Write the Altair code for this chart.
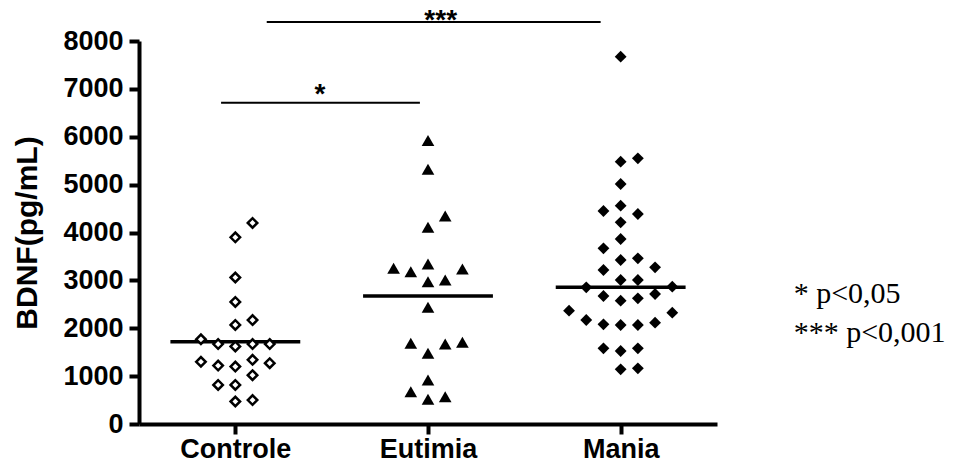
import altair as alt
import pandas as pd

# ---------------- data ----------------
categories = ["Controle", "Eutimia", "Mania"]

controle = [4200, 3900, 3060, 2550, 2170, 2070, 1770, 1670, 1620, 1670, 1670,
            1340, 1270, 1200, 1220, 1300, 1020, 815, 815, 470, 500]
eutimia = [5920, 5320, 4345, 4108, 3252, 3182, 2973, 3008, 3238, 3342,
           2437, 1686, 1477, 1671, 1706, 919, 675, 515, 571]
mania = [7673, 5550, 5480, 5013, 4449, 4386, 4560, 4212, 3864, 3670, 3461,
         3426, 3217, 3273, 3008, 3008, 2868, 2855, 2715, 2625, 2576, 2674,
         2367, 2172, 2082, 2068, 2068, 2117, 2325, 1581, 1525, 1581, 1142, 1163]
center_lines = [1720, 2672, 2858]

# significance bars (x in group units, y in pg/mL)
sig_x1 = [-0.074, 0.163]
sig_x2 = [0.958, 1.896]
sig_y = [6711, 8397]
sig_labels = ["*", "***"]
sig_label_x = [0.439, 1.066]
sig_label_y = [6700, 8260]

legend_lines = ["* p<0,05", "*** p<0,001"]
legend_x = [2.898, 2.898]
legend_y = [2521, 1719]

# ---------------- beeswarm layout computed from the values ----------------
SLOT = 0.0893      # horizontal step between neighbouring points (group units)
GAP = 320          # vertical distance under which two points may not share a slot
HALF = 0.337       # half length of the central line


def swarm(values, gap=GAP):
    order = sorted(range(len(values)), key=lambda i: values[i])
    last = {}
    slots = [0] * len(values)
    prefs = [0, 1, -1, 2, -2, 3, -3, 4, -4, 5, -5, 6, -6]
    for i in order:
        v = values[i]
        for s in prefs:
            if s not in last or v - last[s] >= gap:
                slots[i] = s
                last[s] = v
                break
    return slots


rows = []
for gi, (name, vals) in enumerate(zip(categories, [controle, eutimia, mania])):
    for v, s in zip(vals, swarm(vals)):
        rows.append({"group": name, "value": v, "xpos": gi + s * SLOT})
points = pd.DataFrame(rows)

centers = pd.DataFrame({
    "group": categories,
    "x1": [i - HALF for i in range(len(categories))],
    "x2": [i + HALF for i in range(len(categories))],
    "value": center_lines,
})
sig = pd.DataFrame({"x1": sig_x1, "x2": sig_x2, "value": sig_y})
sig_txt = pd.DataFrame({"xpos": sig_label_x, "value": sig_label_y, "label": sig_labels})
leg = pd.DataFrame({"xpos": legend_x, "value": legend_y, "label": legend_lines})

# ---------------- scales / axes ----------------
FONT = "Liberation Sans"
label_expr = " : ".join(
    [f"datum.value == {i} ? '{c}'" for i, c in enumerate(categories[:-1])]
) + f" : '{categories[-1]}'"

xscale = alt.Scale(domain=[-0.5, 2.5], nice=False, zero=False)
yscale = alt.Scale(domain=[0, 8000], nice=False, zero=True)

xaxis = alt.Axis(
    values=list(range(len(categories))), labelExpr=label_expr, title=None,
    grid=False, domainColor="black", domainWidth=4, tickColor="black",
    tickWidth=4, tickSize=10, labelFont=FONT, labelFontSize=27,
    labelFontWeight="bold", labelColor="black", labelPadding=2,
    labelFlush=False, labelOverlap=False,
)
yaxis = alt.Axis(
    values=list(range(0, 8001, 1000)), format="d", title="BDNF(pg/mL)",
    grid=False, domainColor="black", domainWidth=4, tickColor="black",
    tickWidth=4, tickSize=10, labelFont=FONT, labelFontSize=27,
    labelFontWeight="bold", labelColor="black", labelPadding=6,
    titleFont=FONT, titleFontSize=30, titleFontWeight="bold",
    titleColor="black", titlePadding=20,
)


def X(field):
    return alt.X(field, type="quantitative", scale=xscale, axis=xaxis)


def Y(field):
    return alt.Y(field, type="quantitative", scale=yscale, axis=yaxis)


base = alt.Chart(points)

ctrl = base.transform_filter(alt.datum.group == "Controle").mark_point(
    shape="diamond", filled=True, fill="white", stroke="black",
    strokeWidth=2.5, size=90, opacity=1,
).encode(x=X("xpos"), y=Y("value"))

eut = base.transform_filter(alt.datum.group == "Eutimia").mark_point(
    shape="triangle-up", filled=True, color="black", size=160, opacity=1,
).encode(x=X("xpos"), y=Y("value"))

man = base.transform_filter(alt.datum.group == "Mania").mark_point(
    shape="diamond", filled=True, color="black", size=140, opacity=1,
).encode(x=X("xpos"), y=Y("value"))

center_rule = alt.Chart(centers).mark_rule(color="black", strokeWidth=3.5).encode(
    x=X("x1"), x2="x2:Q", y=Y("value")
)

sig_rule = alt.Chart(sig).mark_rule(color="black", strokeWidth=2).encode(
    x=X("x1"), x2="x2:Q", y=Y("value")
)

sig_text = alt.Chart(sig_txt).mark_text(
    font=FONT, fontSize=28, fontWeight="bold", color="black",
    align="center", baseline="alphabetic",
).encode(x=X("xpos"), y=Y("value"), text="label:N")

legend_text = alt.Chart(leg).mark_text(
    font="Liberation Serif", fontSize=30, color="black",
    align="left", baseline="alphabetic",
).encode(x=X("xpos"), y=Y("value"), text="label:N")

chart = alt.layer(
    center_rule, ctrl, eut, man, sig_rule, sig_text, legend_text
).properties(
    width=578, height=383,
    autosize=alt.AutoSizeParams(type="none"),
    padding={"left": 131, "top": 33, "right": 232, "bottom": 38},
).configure_view(stroke=None)

chart.save("out.html", embed_options={"renderer": "svg", "actions": False})
